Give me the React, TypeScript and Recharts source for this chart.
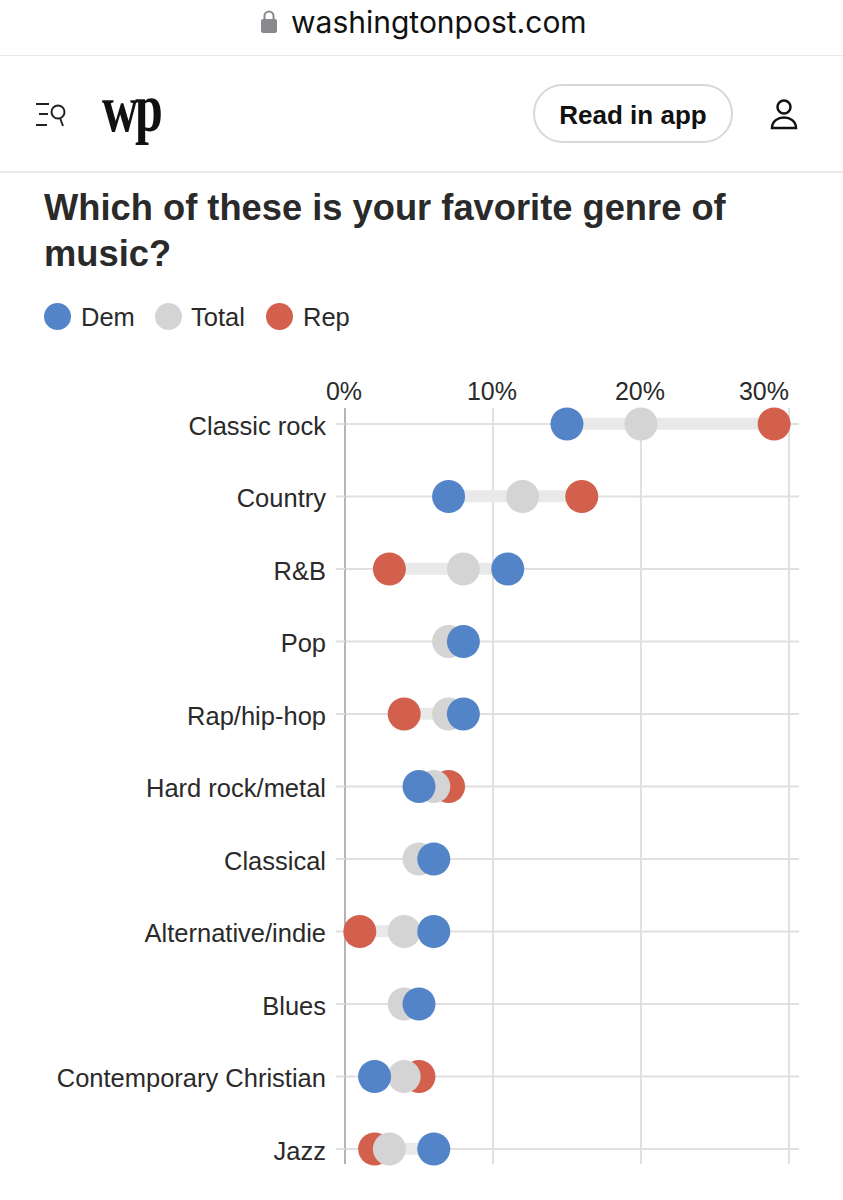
import React from 'react'
import { ComposedChart, Bar, Line, XAxis, YAxis, CartesianGrid } from 'recharts'

const GENRES = ['Classic rock', 'Country', 'R&B', 'Pop', 'Rap/hip-hop', 'Hard rock/metal', 'Classical', 'Alternative/indie', 'Blues', 'Contemporary Christian', 'Jazz']
const DEM = [15, 7, 11, 8, 8, 5, 6, 6, 5, 2, 6]
const TOTAL = [20, 12, 8, 7, 7, 6, 5, 4, 4, 4, 3]
// Pop, Classical and Blues: the Rep dot is fully hidden behind the others, nothing to read
const REP = [29, 16, 3, null, 4, 7, null, 1, null, 5, 2]
const X_TICKS = [0, 10, 20, 30]

const BLUE = '#5484c8'
const GREY = '#d4d4d4'
const RED = '#d2604c'
const INK = '#2a2a2a'
const FONT = '"Liberation Sans", Arial, sans-serif'

const LEGEND = [
  { name: 'Dem', color: BLUE, left: 44, labelLeft: 81 },
  { name: 'Total', color: GREY, left: 155, labelLeft: 191 },
  { name: 'Rep', color: RED, left: 266, labelLeft: 303 },
]

const chartData = GENRES.map((genre, i) => {
  const vals = [DEM[i], TOTAL[i], REP[i]].filter((v): v is number => v !== null)
  return {
    genre,
    Dem: DEM[i],
    Total: TOTAL[i],
    Rep: REP[i],
    range: [Math.min(...vals), Math.max(...vals)],
  }
})

// last tick sits flush against its gridline, the others are centred
const XTick = ({ x, y, payload }: any) => (
  <text x={payload.value === 30 ? x : x - 1} y={y} textAnchor={payload.value === 30 ? 'end' : 'middle'} fontSize={25} fill={INK} fontFamily={FONT}>
    {payload.value}%
  </text>
)

const abs = (left: number, top: number): React.CSSProperties => ({ position: 'absolute', left, top })

function Header() {
  return (
    <>
      <svg style={abs(261, 10)} width={17} height={24}>
        <rect x={0} y={9} width={16} height={14} rx={2} fill="#8a8a8e" />
        <path d="M3.5 10V6a4.5 4.5 0 0 1 9 0v4" fill="none" stroke="#8a8a8e" strokeWidth={2} />
      </svg>
      <div style={{ ...abs(291, 2), fontSize: 30, lineHeight: '40px', color: '#111', fontFamily: 'Inter' }}>washingtonpost.com</div>
      <div style={{ ...abs(0, 55), width: 843, height: 1, background: '#e8e8e8' }} />
      <svg style={abs(34, 100)} width={36} height={30} fill="none" stroke="#222">
        <path d="M2 4h13M5 14h9M2 25h11" strokeWidth={2} />
        <circle cx={24} cy={12} r={6.5} strokeWidth={2} />
        <path d="M26 18l3 8" strokeWidth={2} />
      </svg>
      <div style={{ ...abs(102, 78), fontSize: 50, lineHeight: '60px', letterSpacing: -3, fontWeight: 700, color: '#111', fontFamily: '"Liberation Serif"', transform: 'scaleY(1.35)' }}>wp</div>
      <div style={{ ...abs(533, 84), boxSizing: 'border-box', width: 200, height: 59, borderRadius: 30, border: '2px solid #d8d8d8', fontSize: 26, lineHeight: '58px', textAlign: 'center', fontWeight: 700, color: '#111', fontFamily: FONT }}>Read in app</div>
      <svg style={abs(768, 98)} width={32} height={34} fill="none" stroke="#111" strokeWidth={2.5}>
        <circle cx={16} cy={9} r={6.5} />
        <path d="M4 30c0-14 24-14 24 0z" />
      </svg>
      <div style={{ ...abs(0, 171), width: 843, height: 2, background: '#e8e8e8' }} />
    </>
  )
}

export default function App() {
  return (
    <div style={{ ...abs(0, 0), width: 843, height: 1200, background: '#fff', overflow: 'hidden', fontFamily: FONT, color: INK }}>
      <Header />
      <div style={{ ...abs(44, 185), width: 760, fontSize: 36.3, lineHeight: '46px', fontWeight: 700 }}>
        Which of these is your favorite genre of music?
      </div>
      {LEGEND.map(l => (
        <React.Fragment key={l.name}>
          <div style={{ ...abs(l.left, 303), width: 27, height: 27, borderRadius: '50%', background: l.color }} />
          <div style={{ ...abs(l.labelLeft, 301), fontSize: 25.5, lineHeight: '32px' }}>{l.name}</div>
        </React.Fragment>
      ))}
      <div style={abs(0, 0)}>
        <ComposedChart
          width={843}
          height={1200}
          data={chartData}
          layout="vertical"
          margin={{ top: 378, right: 44, bottom: 36, left: 0 }}
        >
          <CartesianGrid stroke="#e0e0e0" strokeWidth={2} syncWithTicks />
          <XAxis
            type="number"
            orientation="top"
            domain={[0, 30.68]}
            ticks={X_TICKS}
            height={30}
            axisLine={false}
            tickLine={false}
            tick={<XTick />}
            interval={0}
          />
          <YAxis
            type="category"
            dataKey="genre"
            width={345}
            scale="point"
            padding={{ top: 16, bottom: 15 }}
            interval={0}
            axisLine={{ stroke: '#b4b4b4', strokeWidth: 2 }}
            tickLine={{ stroke: '#e0e0e0', strokeWidth: 2 }}
            tickSize={9}
            tickMargin={10}
            tick={{ fontSize: 25.5, fill: INK, fontFamily: FONT, dy: 1.5 }}
          />
          <Bar dataKey="range" barSize={12} fill="#e9e9e9" isAnimationActive={false} />
          <Line dataKey="Rep" stroke="none" dot={{ r: 16.5, fill: RED, stroke: 'none', fillOpacity: 1 }} isAnimationActive={false} />
          <Line dataKey="Total" stroke="none" dot={{ r: 16.5, fill: GREY, stroke: 'none', fillOpacity: 1 }} isAnimationActive={false} />
          <Line dataKey="Dem" stroke="none" dot={{ r: 16.5, fill: BLUE, stroke: 'none', fillOpacity: 1 }} isAnimationActive={false} />
        </ComposedChart>
      </div>
    </div>
  )
}
